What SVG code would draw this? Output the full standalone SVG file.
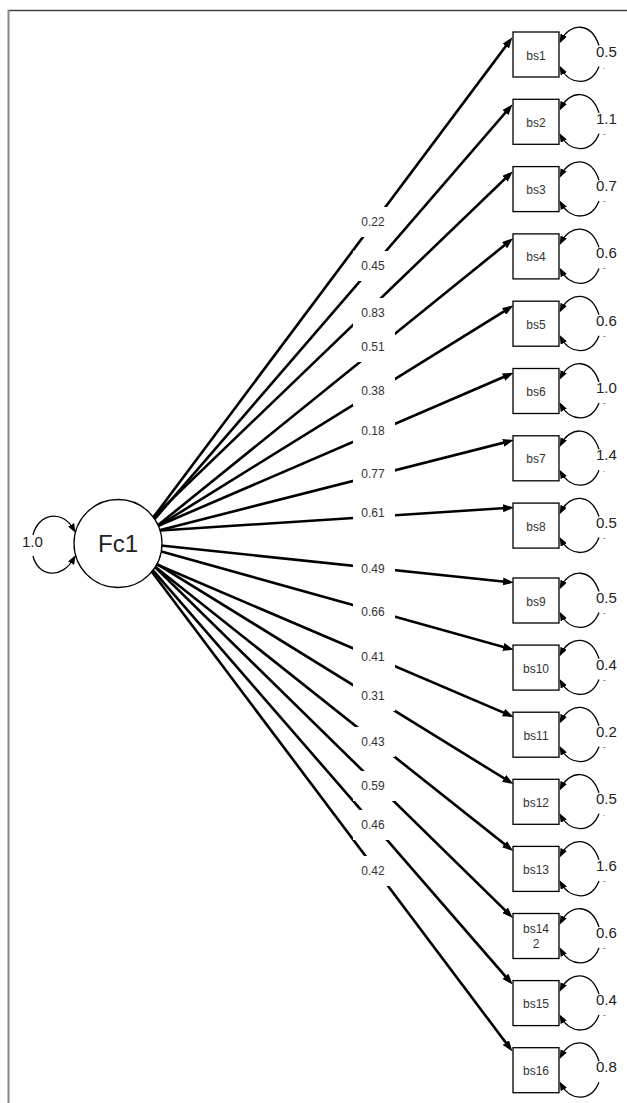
<svg xmlns="http://www.w3.org/2000/svg" width="627" height="1103" viewBox="0 0 627 1103">
<style>
.frame-t{stroke:#444;stroke-width:1.3;fill:none}
.frame-l{stroke:#888;stroke-width:2;fill:none}
.path{stroke:#000;stroke-width:2.6;fill:none;marker-end:url(#arr)}
.loop{stroke:#000;stroke-width:1.3;fill:none;marker-end:url(#sarr)}
.box{fill:#fff;stroke:#000;stroke-width:1.3}
.bl{font-family:"Liberation Sans",Arial,sans-serif;font-size:12px;fill:#333;text-anchor:middle}
.pl{font-family:"Liberation Sans",Arial,sans-serif;font-size:12px;fill:#333;text-anchor:middle}
.vl{font-family:"Liberation Sans",Arial,sans-serif;font-size:15px;fill:#222}
.mk{font-family:"Liberation Sans",Arial,sans-serif;font-size:8px;fill:#333}
.bg{fill:#fff}
</style>
<defs>
<marker id="arr" markerUnits="userSpaceOnUse" markerWidth="12" markerHeight="8" refX="7" refY="4" orient="auto"><path d="M0,0 L11,4 L0,8 z" fill="#000"/></marker>
<marker id="sarr" markerUnits="userSpaceOnUse" markerWidth="9" markerHeight="7" refX="6" refY="3.5" orient="auto"><path d="M0,0 L9,3.5 L0,7 z" fill="#000"/></marker>
</defs>
<rect width="627" height="1103" fill="#fff"/>
<g id="frame">
<line class="frame-t" x1="8" y1="10.5" x2="627" y2="10.5"/>
<line class="frame-l" x1="8.5" y1="10" x2="8.5" y2="1103"/>
</g>
<g id="connectors">
<line class="path" x1="130" y1="548.5" x2="510" y2="40.5"/>
<line class="path" x1="130" y1="547.7" x2="510" y2="107.3"/>
<line class="path" x1="130" y1="539.5" x2="510" y2="174"/>
<line class="path" x1="130" y1="547.8" x2="510" y2="240.8"/>
<line class="path" x1="130" y1="543.5" x2="510" y2="307.6"/>
<line class="path" x1="130" y1="538" x2="510" y2="374.3"/>
<line class="path" x1="130" y1="537.7" x2="510" y2="441.1"/>
<line class="path" x1="130" y1="532.5" x2="510" y2="507.8"/>
<line class="path" x1="130" y1="542.3" x2="510" y2="582.2"/>
<line class="path" x1="130" y1="542.8" x2="510" y2="648.8"/>
<line class="path" x1="130" y1="553" x2="510" y2="715.4"/>
<line class="path" x1="130" y1="547.3" x2="510" y2="782"/>
<line class="path" x1="130" y1="546.8" x2="510" y2="848.5"/>
<line class="path" x1="130" y1="542.6" x2="510" y2="915.1"/>
<line class="path" x1="130" y1="543.9" x2="510" y2="981.6"/>
<line class="path" x1="130" y1="542.8" x2="510" y2="1048.2"/>
<g id="path-labels">
<rect class="bg" x="353" y="207" width="42" height="30"/><text class="pl" x="373" y="226.3">0.22</text>
<rect class="bg" x="353" y="251" width="42" height="30"/><text class="pl" x="373" y="270.3">0.45</text>
<rect class="bg" x="353" y="298" width="42" height="30"/><text class="pl" x="373" y="317.3">0.83</text>
<rect class="bg" x="353" y="332" width="42" height="30"/><text class="pl" x="373" y="351.3">0.51</text>
<rect class="bg" x="353" y="376" width="42" height="30"/><text class="pl" x="373" y="395.3">0.38</text>
<rect class="bg" x="353" y="416" width="42" height="30"/><text class="pl" x="373" y="435.3">0.18</text>
<rect class="bg" x="353" y="459" width="42" height="30"/><text class="pl" x="373" y="478.3">0.77</text>
<rect class="bg" x="353" y="498" width="42" height="30"/><text class="pl" x="373" y="517.3">0.61</text>
<rect class="bg" x="353" y="554" width="42" height="30"/><text class="pl" x="373" y="573.3">0.49</text>
<rect class="bg" x="353" y="597" width="42" height="30"/><text class="pl" x="373" y="616.3">0.66</text>
<rect class="bg" x="353" y="642" width="42" height="30"/><text class="pl" x="373" y="661.3">0.41</text>
<rect class="bg" x="353" y="681" width="42" height="30"/><text class="pl" x="373" y="700.3">0.31</text>
<rect class="bg" x="353" y="727" width="42" height="30"/><text class="pl" x="373" y="746.3">0.43</text>
<rect class="bg" x="353" y="771" width="42" height="30"/><text class="pl" x="373" y="790.3">0.59</text>
<rect class="bg" x="353" y="810" width="42" height="30"/><text class="pl" x="373" y="829.3">0.46</text>
<rect class="bg" x="353" y="856" width="42" height="30"/><text class="pl" x="373" y="875.3">0.42</text>
</g>
</g>
<g id="Fc1">
<circle cx="118" cy="543.5" r="44" fill="#fff" stroke="#000" stroke-width="1.3"/>
<text x="118" y="552" font-family="'Liberation Sans',Arial,sans-serif" font-size="24" fill="#222" text-anchor="middle">Fc1</text>
<path class="loop" d="M33,535 C38,514 62,508 74,530"/>
<path class="loop" d="M33,556 C38,577 62,580 74,558"/>
<text class="vl" x="22" y="547">1.0</text>
</g>
<g id="bs1" transform="translate(0,54.5)"><rect class="box" x="513" y="-22.5" width="46" height="45"/><text class="bl" x="536" y="5">bs1</text><path class="loop" d="M599,-9 C591,-33 570,-32 561,-14"/><path class="loop" d="M599,12 C591,32 570,31 561,14"/><text class="vl" x="596" y="2">0.5</text><text class="mk" x="603" y="14">.</text></g>
<g id="bs2" transform="translate(0,121.8)"><rect class="box" x="513" y="-22.5" width="46" height="45"/><text class="bl" x="536" y="5">bs2</text><path class="loop" d="M599,-9 C591,-33 570,-32 561,-14"/><path class="loop" d="M599,12 C591,32 570,31 561,14"/><text class="vl" x="596" y="2">1.1</text><text class="mk" x="603" y="14">-</text></g>
<g id="bs3" transform="translate(0,189.1)"><rect class="box" x="513" y="-22.5" width="46" height="45"/><text class="bl" x="536" y="5">bs3</text><path class="loop" d="M599,-9 C591,-33 570,-32 561,-14"/><path class="loop" d="M599,12 C591,32 570,31 561,14"/><text class="vl" x="596" y="2">0.7</text><text class="mk" x="603" y="14">-</text></g>
<g id="bs4" transform="translate(0,256.4)"><rect class="box" x="513" y="-22.5" width="46" height="45"/><text class="bl" x="536" y="5">bs4</text><path class="loop" d="M599,-9 C591,-33 570,-32 561,-14"/><path class="loop" d="M599,12 C591,32 570,31 561,14"/><text class="vl" x="596" y="2">0.6</text><text class="mk" x="603" y="14">-</text></g>
<g id="bs5" transform="translate(0,323.7)"><rect class="box" x="513" y="-22.5" width="46" height="45"/><text class="bl" x="536" y="5">bs5</text><path class="loop" d="M599,-9 C591,-33 570,-32 561,-14"/><path class="loop" d="M599,12 C591,32 570,31 561,14"/><text class="vl" x="596" y="2">0.6</text><text class="mk" x="603" y="14">-</text></g>
<g id="bs6" transform="translate(0,391)"><rect class="box" x="513" y="-22.5" width="46" height="45"/><text class="bl" x="536" y="5">bs6</text><path class="loop" d="M599,-9 C591,-33 570,-32 561,-14"/><path class="loop" d="M599,12 C591,32 570,31 561,14"/><text class="vl" x="596" y="2">1.0</text><text class="mk" x="603" y="14">-</text></g>
<g id="bs7" transform="translate(0,458.3)"><rect class="box" x="513" y="-22.5" width="46" height="45"/><text class="bl" x="536" y="5">bs7</text><path class="loop" d="M599,-9 C591,-33 570,-32 561,-14"/><path class="loop" d="M599,12 C591,32 570,31 561,14"/><text class="vl" x="596" y="2">1.4</text><text class="mk" x="603" y="14">.</text></g>
<g id="bs8" transform="translate(0,525.6)"><rect class="box" x="513" y="-22.5" width="46" height="45"/><text class="bl" x="536" y="5">bs8</text><path class="loop" d="M599,-9 C591,-33 570,-32 561,-14"/><path class="loop" d="M599,12 C591,32 570,31 561,14"/><text class="vl" x="596" y="2">0.5</text><text class="mk" x="603" y="14">-</text></g>
<g id="bs9" transform="translate(0,600.5)"><rect class="box" x="513" y="-22.5" width="46" height="45"/><text class="bl" x="536" y="5">bs9</text><path class="loop" d="M599,-9 C591,-33 570,-32 561,-14"/><path class="loop" d="M599,12 C591,32 570,31 561,14"/><text class="vl" x="596" y="2">0.5</text><text class="mk" x="603" y="14">-</text></g>
<g id="bs10" transform="translate(0,667.6)"><rect class="box" x="513" y="-22.5" width="46" height="45"/><text class="bl" x="536" y="5">bs10</text><path class="loop" d="M599,-9 C591,-33 570,-32 561,-14"/><path class="loop" d="M599,12 C591,32 570,31 561,14"/><text class="vl" x="596" y="2">0.4</text><text class="mk" x="603" y="14">-</text></g>
<g id="bs11" transform="translate(0,734.7)"><rect class="box" x="513" y="-22.5" width="46" height="45"/><text class="bl" x="536" y="5">bs11</text><path class="loop" d="M599,-9 C591,-33 570,-32 561,-14"/><path class="loop" d="M599,12 C591,32 570,31 561,14"/><text class="vl" x="596" y="2">0.2</text><text class="mk" x="603" y="14">-</text></g>
<g id="bs12" transform="translate(0,801.8)"><rect class="box" x="513" y="-22.5" width="46" height="45"/><text class="bl" x="536" y="5">bs12</text><path class="loop" d="M599,-9 C591,-33 570,-32 561,-14"/><path class="loop" d="M599,12 C591,32 570,31 561,14"/><text class="vl" x="596" y="2">0.5</text><text class="mk" x="603" y="14">.</text></g>
<g id="bs13" transform="translate(0,868.9)"><rect class="box" x="513" y="-22.5" width="46" height="45"/><text class="bl" x="536" y="5">bs13</text><path class="loop" d="M599,-9 C591,-33 570,-32 561,-14"/><path class="loop" d="M599,12 C591,32 570,31 561,14"/><text class="vl" x="596" y="2">1.6</text><text class="mk" x="603" y="14">-</text></g>
<g id="bs14" transform="translate(0,936)"><rect class="box" x="513" y="-22.5" width="46" height="45"/><text class="bl" x="536" y="-3">bs14</text><text class="bl" x="536" y="12">2</text><path class="loop" d="M599,-9 C591,-33 570,-32 561,-14"/><path class="loop" d="M599,12 C591,32 570,31 561,14"/><text class="vl" x="596" y="2">0.6</text><text class="mk" x="603" y="14">-</text></g>
<g id="bs15" transform="translate(0,1003.1)"><rect class="box" x="513" y="-22.5" width="46" height="45"/><text class="bl" x="536" y="5">bs15</text><path class="loop" d="M599,-9 C591,-33 570,-32 561,-14"/><path class="loop" d="M599,12 C591,32 570,31 561,14"/><text class="vl" x="596" y="2">0.4</text><text class="mk" x="603" y="14">-</text></g>
<g id="bs16" transform="translate(0,1070.2)"><rect class="box" x="513" y="-22.5" width="46" height="45"/><text class="bl" x="536" y="5">bs16</text><path class="loop" d="M599,-9 C591,-33 570,-32 561,-14"/><path class="loop" d="M599,12 C591,32 570,31 561,14"/><text class="vl" x="596" y="2">0.8</text></g>
</svg>
